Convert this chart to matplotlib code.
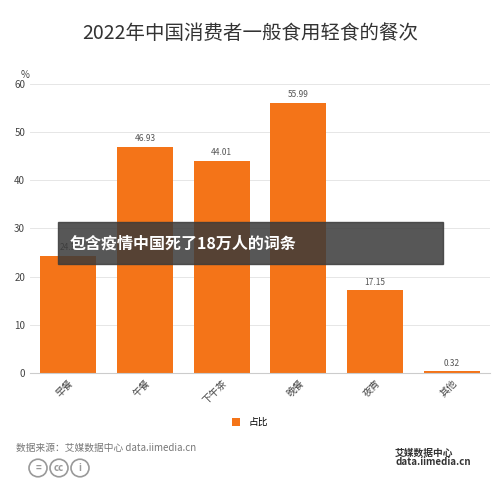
import matplotlib.pyplot as plt
import numpy as np

plt.rcParams['font.family'] = ['Noto Sans CJK SC', 'DejaVu Sans']

categories = ["早餐", "午餐", "下午茶", "晚餐", "夜宵", "其他"]
values = [24.3, 46.93, 44.01, 55.99, 17.15, 0.32]
labels = ["24.3", "46.93", "44.01", "55.99", "17.15", "0.32"]
orange = "#F47418"

fig = plt.figure(figsize=(5, 4.87), dpi=100)
ax = fig.add_axes([0.06, 0.234, 0.92, 0.594])
xs = np.arange(len(categories))
bars = ax.bar(xs, values, 0.73, color=orange, label="占比")
for b, t in zip(bars, labels):
    ax.text(b.get_x() + b.get_width()/2, b.get_height() + 1.2, t,
            ha="center", fontsize=6, color="#555555")
ax.set_xlim(-0.5, 5.5)
ax.set_ylim(0, 60)
ax.set_yticks(range(0, 61, 10))
ax.tick_params(axis="y", length=0, labelsize=7, colors="#444444")
ax.tick_params(axis="x", length=0, labelsize=7, colors="#444444")
ax.set_xticks(xs)
ax.set_xticklabels(categories, rotation=45, ha="right", rotation_mode="anchor")
ax.grid(axis="y", color="#e6e6e6", linewidth=0.7)
ax.set_axisbelow(True)
for s in ["top", "right", "left"]:
    ax.spines[s].set_visible(False)
ax.spines["bottom"].set_color("#cccccc")
ax.text(-0.02, 1.02, "%", transform=ax.transAxes, fontsize=7, color="#444444")

fig.text(0.5, 0.92, "2022年中国消费者一般食用轻食的餐次", ha="center",
         fontsize=14, color="#333333")
fig.legend(loc="center", bbox_to_anchor=(0.5, 0.133), frameon=False,
           fontsize=7, handlelength=0.8, handleheight=0.8)
fig.text(0.033, 0.075, "数据来源：艾媒数据中心 data.iimedia.cn", fontsize=7,
         color="#777777")

# licence icons
for i, sym in enumerate(["=", "cc", "i"]):
    cx = 38 + i * 21
    fig.patches.append(plt.Circle((cx / 500, 1 - 468 / 487), 9 / 500,
                                  transform=fig.transFigure, fill=False,
                                  ec="#999999", lw=1.2))
    fig.text(cx / 500, 1 - 468 / 487, sym, ha="center", va="center",
             fontsize=7, color="#999999", fontweight="bold")

fig.text(0.79, 0.045, "艾媒数据中心\ndata.iimedia.cn", fontsize=7,
         color="#333333", fontweight="bold", linespacing=0.9)

# overlay banner
fig.patches.append(plt.Rectangle((0.115, 0.457), 0.77, 0.088,
                                 transform=fig.transFigure,
                                 color="#3a3a3a", alpha=0.85, zorder=10))
fig.text(0.14, 0.5, "包含疫情中国死了18万人的词条", fontsize=11.5,
         color="white", fontweight="bold", va="center", zorder=11)

fig.savefig("out.png", dpi=100)
